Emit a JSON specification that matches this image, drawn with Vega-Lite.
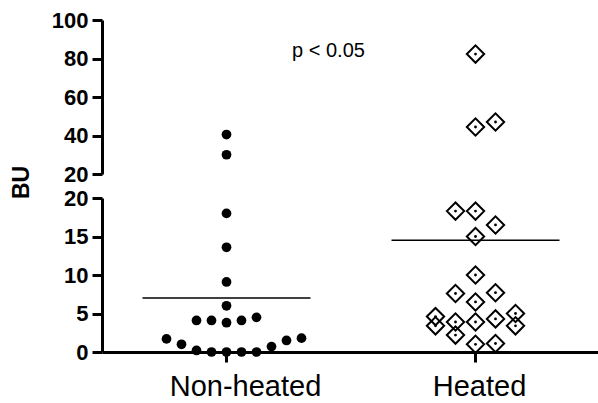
{
  "$schema": "https://vega.github.io/schema/vega-lite/v6.json",
  "padding": {"left": 10, "top": 9, "right": 0, "bottom": 0},
  "bounds": "flush",
  "config": {
    "font": "Liberation Sans",
    "view": {"stroke": null},
    "axis": {
      "grid": false,
      "domainColor": "black",
      "tickColor": "black",
      "labelColor": "black",
      "titleColor": "black",
      "domainWidth": 3,
      "tickWidth": 3,
      "tickSize": 10,
      "labelOverlap": false,
      "labelFlush": false
    }
  },
  "datasets": {
    "points": [
      {"group": "Non-heated", "jitter": 0, "BU": 40.5},
      {"group": "Non-heated", "jitter": 0, "BU": 30},
      {"group": "Non-heated", "jitter": 0, "BU": 18.0},
      {"group": "Non-heated", "jitter": 0, "BU": 13.6},
      {"group": "Non-heated", "jitter": 0, "BU": 9.1},
      {"group": "Non-heated", "jitter": 0, "BU": 6.0},
      {"group": "Non-heated", "jitter": -3, "BU": 4.1},
      {"group": "Non-heated", "jitter": -1.5, "BU": 4.1},
      {"group": "Non-heated", "jitter": 0, "BU": 3.8},
      {"group": "Non-heated", "jitter": 1.5, "BU": 4.1},
      {"group": "Non-heated", "jitter": 3, "BU": 4.5},
      {"group": "Non-heated", "jitter": -6, "BU": 1.7},
      {"group": "Non-heated", "jitter": -4.5, "BU": 1.0},
      {"group": "Non-heated", "jitter": -3, "BU": 0.2},
      {"group": "Non-heated", "jitter": -1.5, "BU": 0},
      {"group": "Non-heated", "jitter": 0, "BU": 0},
      {"group": "Non-heated", "jitter": 1.5, "BU": 0},
      {"group": "Non-heated", "jitter": 3, "BU": 0},
      {"group": "Non-heated", "jitter": 4.5, "BU": 0.7},
      {"group": "Non-heated", "jitter": 6, "BU": 1.5},
      {"group": "Non-heated", "jitter": 7.5, "BU": 1.8},
      {"group": "Heated", "jitter": 0, "BU": 82.3},
      {"group": "Heated", "jitter": 0, "BU": 44.4},
      {"group": "Heated", "jitter": 2, "BU": 47.0},
      {"group": "Heated", "jitter": -2, "BU": 18.3},
      {"group": "Heated", "jitter": 0, "BU": 18.3},
      {"group": "Heated", "jitter": 2, "BU": 16.5},
      {"group": "Heated", "jitter": 0, "BU": 15.0},
      {"group": "Heated", "jitter": 0, "BU": 10.0},
      {"group": "Heated", "jitter": -2, "BU": 7.6},
      {"group": "Heated", "jitter": 2, "BU": 7.7},
      {"group": "Heated", "jitter": 0, "BU": 6.5},
      {"group": "Heated", "jitter": -4, "BU": 4.6},
      {"group": "Heated", "jitter": -4, "BU": 3.4},
      {"group": "Heated", "jitter": -2, "BU": 3.9},
      {"group": "Heated", "jitter": 0, "BU": 3.9},
      {"group": "Heated", "jitter": 2, "BU": 4.3},
      {"group": "Heated", "jitter": 4, "BU": 5.0},
      {"group": "Heated", "jitter": 4, "BU": 3.4},
      {"group": "Heated", "jitter": -2, "BU": 2.2},
      {"group": "Heated", "jitter": 0, "BU": 1.0},
      {"group": "Heated", "jitter": 2, "BU": 1.1}
    ],
    "means": [
      {"group": "Non-heated", "BU": 7.0},
      {"group": "Heated", "BU": 14.5}
    ],
    "notes": [
      {"group": "Non-heated", "jitter": 10.2, "BU": 84, "label": "p < 0.05"}
    ]
  },
  "spacing": 24,
  "vconcat": [
    {
      "width": 498,
      "height": 154,
      "layer": [
        {
          "data": {"name": "points"},
          "transform": [{"filter": "datum.group == 'Non-heated' && datum.BU > 20"}],
          "mark": {"type": "point", "shape": "circle", "filled": true, "color": "black", "size": 95, "opacity": 1},
          "encoding": {
            "x": {"field": "group", "type": "nominal", "scale": {"type": "band", "paddingInner": 0, "paddingOuter": 0, "domain": ["Non-heated", "Heated"]}, "axis": null},
            "xOffset": {"field": "jitter", "type": "quantitative", "scale": {"domain": [-10, 10], "range": [24.5, 224.5]}},
            "y": {"field": "BU", "type": "quantitative", "scale": {"domain": [20, 100], "nice": false}, "axis": {"tickCount": 5, "labelOverlap": false, "labelSeparation": 0, "title": null, "labelFontSize": 22, "labelFontWeight": "bold", "labelPadding": 4}}
          }
        },
        {
          "data": {"name": "points"},
          "transform": [{"filter": "datum.group == 'Heated' && datum.BU > 20"}],
          "mark": {"type": "point", "shape": "diamond", "filled": false, "color": "black", "strokeWidth": 2, "size": 300, "opacity": 1},
          "encoding": {
            "x": {"field": "group", "type": "nominal"},
            "xOffset": {"field": "jitter", "type": "quantitative"},
            "y": {"field": "BU", "type": "quantitative"}
          }
        },
        {
          "data": {"name": "points"},
          "transform": [{"filter": "datum.group == 'Heated' && datum.BU > 20"}],
          "mark": {"type": "point", "shape": "circle", "filled": true, "color": "black", "size": 8, "opacity": 1},
          "encoding": {
            "x": {"field": "group", "type": "nominal"},
            "xOffset": {"field": "jitter", "type": "quantitative"},
            "y": {"field": "BU", "type": "quantitative"}
          }
        },
        {
          "data": {"name": "notes"},
          "mark": {"type": "text", "fontSize": 20, "color": "black", "align": "center", "baseline": "middle"},
          "encoding": {
            "x": {"field": "group", "type": "nominal"},
            "xOffset": {"field": "jitter", "type": "quantitative"},
            "y": {"field": "BU", "type": "quantitative"},
            "text": {"field": "label"}
          }
        }
      ]
    },
    {
      "width": 498,
      "height": 154,
      "layer": [
        {
          "data": {"name": "points"},
          "transform": [{"filter": "datum.group == 'Non-heated' && datum.BU <= 20"}],
          "mark": {"type": "point", "shape": "circle", "filled": true, "color": "black", "size": 95, "opacity": 1},
          "encoding": {
            "x": {"field": "group", "type": "nominal", "scale": {"type": "band", "paddingInner": 0, "paddingOuter": 0, "domain": ["Non-heated", "Heated"]},
              "axis": {"title": null, "labelFontSize": 29, "labelFontWeight": "normal", "labelPadding": 10, "labelAngle": 0,
                "labelOffset": {"condition": {"test": "datum.value == 'Non-heated'", "value": 19}, "value": 4}}},
            "xOffset": {"field": "jitter", "type": "quantitative", "scale": {"domain": [-10, 10], "range": [24.5, 224.5]}},
            "y": {"field": "BU", "type": "quantitative", "scale": {"domain": [0, 20], "nice": false},
              "axis": {"tickCount": 5, "labelOverlap": false, "labelSeparation": 0, "title": "BU", "titleFontSize": 23, "titleFontWeight": "bold", "titleAngle": 270, "titleAlign": "center", "titleBaseline": "bottom", "titleX": -69, "titleY": -16, "labelFontSize": 22, "labelFontWeight": "bold", "labelPadding": 4}}
          }
        },
        {
          "data": {"name": "points"},
          "transform": [{"filter": "datum.group == 'Heated' && datum.BU <= 20"}],
          "mark": {"type": "point", "shape": "diamond", "filled": false, "color": "black", "strokeWidth": 2, "size": 300, "opacity": 1},
          "encoding": {
            "x": {"field": "group", "type": "nominal"},
            "xOffset": {"field": "jitter", "type": "quantitative"},
            "y": {"field": "BU", "type": "quantitative"}
          }
        },
        {
          "data": {"name": "points"},
          "transform": [{"filter": "datum.group == 'Heated' && datum.BU <= 20"}],
          "mark": {"type": "point", "shape": "circle", "filled": true, "color": "black", "size": 8, "opacity": 1},
          "encoding": {
            "x": {"field": "group", "type": "nominal"},
            "xOffset": {"field": "jitter", "type": "quantitative"},
            "y": {"field": "BU", "type": "quantitative"}
          }
        },
        {
          "data": {"name": "means"},
          "mark": {"type": "tick", "orient": "horizontal", "size": 168, "thickness": 1.5, "color": "black", "opacity": 1},
          "encoding": {
            "x": {"field": "group", "type": "nominal"},
            "y": {"field": "BU", "type": "quantitative"}
          }
        }
      ]
    }
  ]
}
